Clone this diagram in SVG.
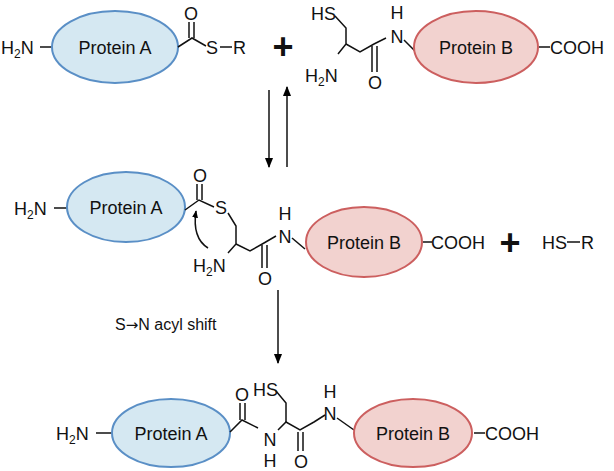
<svg xmlns="http://www.w3.org/2000/svg" width="614" height="471" viewBox="0 0 614 471">
<defs>
<marker id="ah" viewBox="0 0 10 10" refX="9" refY="5" markerWidth="7" markerHeight="7" orient="auto"><path d="M0,1 L10,5 L0,9 z" fill="#000"/></marker>
<marker id="ah2" viewBox="0 0 10 10" refX="9" refY="5" markerWidth="5" markerHeight="5" orient="auto"><path d="M0,1 L10,5 L0,9 z" fill="#000"/></marker>
</defs>
<style>
text{font-family:"Liberation Sans",Arial,sans-serif;font-size:18px;fill:#111}
.c{text-anchor:middle}
.pa{fill:#d5e8f2;stroke:#5a8fc6;stroke-width:2}
.pb{fill:#f2d2cf;stroke:#cc5f5f;stroke-width:2}
.b{stroke:#111;stroke-width:1.5;fill:none}
.sub{font-size:12px}
.plus{font-size:36px;font-weight:bold}
.lbl{font-size:16px}
</style>
<rect width="614" height="471" fill="#fff"/>
<!-- Row 1 -->
<g id="r1-protA">
<text x="1" y="54">H<tspan class="sub" dy="4">2</tspan><tspan dy="-4">N</tspan></text>
<line class="b" x1="40" y1="47" x2="52" y2="47"/>
<ellipse class="pa" cx="115" cy="47" rx="63" ry="36"/>
<text class="c" x="115" y="54">Protein A</text>
<path class="b" d="M178,47 L192,38 L206,46"/>
<line class="b" x1="189" y1="38" x2="189" y2="22"/><line class="b" x1="194" y1="38" x2="194" y2="22"/>
<text class="c" x="191" y="20">O</text>
<text x="206" y="54">S</text>
<line class="b" x1="220" y1="47" x2="232" y2="47"/>
<text x="233" y="54">R</text>
</g>
<text class="c plus" x="283" y="59">+</text>
<g id="r1-cys-protB">
<text x="311" y="20">HS</text>
<path class="b" d="M335,16 L346,28 L346,44 L338,54"/>
<path class="b" d="M346,44 L360,52 L374,44 L386,38"/>
<line class="b" x1="372" y1="46" x2="372" y2="72"/><line class="b" x1="377" y1="46" x2="377" y2="72"/>
<text class="c" x="375" y="89">O</text>
<text x="305" y="82">H<tspan class="sub" dy="4">2</tspan><tspan dy="-4">N</tspan></text>
<text class="c" x="397" y="43">N</text>
<text class="c" x="397" y="19">H</text>
<line class="b" x1="404" y1="40" x2="416" y2="52"/>
<ellipse class="pb" cx="476" cy="47" rx="62" ry="36"/>
<text class="c" x="476" y="54">Protein B</text>
<line class="b" x1="539" y1="47" x2="550" y2="47"/>
<text x="550" y="54">COOH</text>
</g>
<!-- arrows -->
<g id="connectors">
<line class="b" x1="269" y1="90" x2="269" y2="167" marker-end="url(#ah)"/>
<line class="b" x1="287" y1="167" x2="287" y2="87" marker-end="url(#ah)"/>
<line class="b" x1="278" y1="290" x2="278" y2="363" marker-end="url(#ah)"/>
<path class="b" d="M208,248 Q192,238 196,211" marker-end="url(#ah2)"/>
</g>
<text class="lbl" x="115" y="330">S<tspan font-family="DejaVu Sans" font-size="15">→</tspan>N acyl shift</text>
<!-- Row 2 -->
<g id="r2-thioester">
<text x="14" y="215">H<tspan class="sub" dy="4">2</tspan><tspan dy="-4">N</tspan></text>
<line class="b" x1="54" y1="208" x2="67" y2="208"/>
<ellipse class="pa" cx="126" cy="207" rx="59" ry="35"/>
<text class="c" x="126" y="214">Protein A</text>
<path class="b" d="M185,210 L199,200 L214,207"/>
<line class="b" x1="197" y1="200" x2="197" y2="184"/><line class="b" x1="202" y1="200" x2="202" y2="184"/>
<text class="c" x="200" y="182">O</text>
<text x="215" y="214">S</text>
<path class="b" d="M228,213 L236,226 L236,244 L228,253"/>
<path class="b" d="M236,244 L250,251 L264,243 L276,236"/>
<line class="b" x1="262" y1="245" x2="262" y2="268"/><line class="b" x1="267" y1="245" x2="267" y2="268"/>
<text class="c" x="265" y="285">O</text>
<text x="193" y="272">H<tspan class="sub" dy="4">2</tspan><tspan dy="-4">N</tspan></text>
<text class="c" x="285" y="243">N</text>
<text class="c" x="285" y="220">H</text>
<line class="b" x1="292" y1="238" x2="305" y2="249"/>
<ellipse class="pb" cx="364" cy="242" rx="58" ry="35"/>
<text class="c" x="364" y="249">Protein B</text>
<line class="b" x1="423" y1="242" x2="432" y2="242"/>
<text x="431" y="249">COOH</text>
</g>
<text class="c plus" x="510" y="255">+</text>
<g id="r2-hsr"><text x="542" y="249">HS</text><line class="b" x1="567" y1="242" x2="580" y2="242"/><text x="581" y="249">R</text></g>
<!-- Row 3 -->
<g id="r3-product">
<text x="56" y="440">H<tspan class="sub" dy="4">2</tspan><tspan dy="-4">N</tspan></text>
<line class="b" x1="96" y1="433" x2="112" y2="433"/>
<ellipse class="pa" cx="171" cy="433" rx="59" ry="34"/>
<text class="c" x="171" y="440">Protein A</text>
<path class="b" d="M230,432 L242,420 L258,428"/>
<line class="b" x1="240" y1="420" x2="240" y2="403"/><line class="b" x1="245" y1="420" x2="245" y2="403"/>
<text class="c" x="242" y="401">O</text>
<text x="253" y="396">HS</text>
<path class="b" d="M276,391 L286,403 L286,422"/>
<path class="b" d="M278,430 L286,422 L300,430 L314,422 L325,415"/>
<text class="c" x="270" y="446">N</text>
<text class="c" x="270" y="467">H</text>
<line class="b" x1="298" y1="432" x2="298" y2="451"/><line class="b" x1="303" y1="432" x2="303" y2="451"/>
<text class="c" x="301" y="468">O</text>
<text class="c" x="330" y="420">N</text>
<text class="c" x="330" y="398">H</text>
<line class="b" x1="337" y1="418" x2="354" y2="430"/>
<ellipse class="pb" cx="413" cy="433" rx="59" ry="34"/>
<text class="c" x="413" y="440">Protein B</text>
<line class="b" x1="474" y1="433" x2="485" y2="433"/>
<text x="485" y="440">COOH</text>
</g>
</svg>
